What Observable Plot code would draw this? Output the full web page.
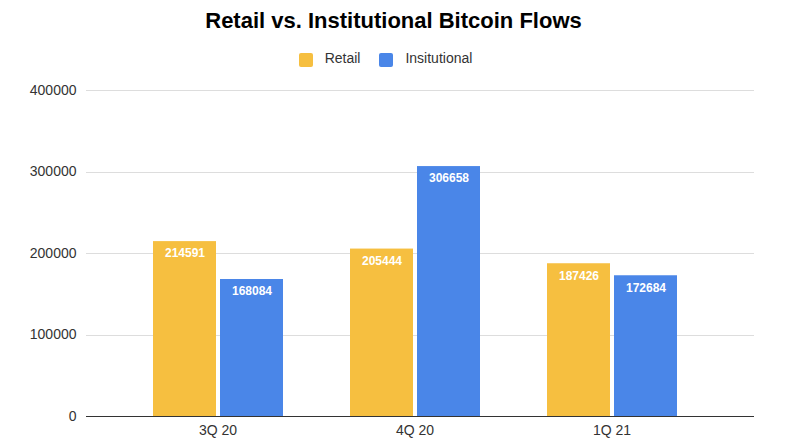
<!DOCTYPE html>
<html><head>
<script src="https://cdn.jsdelivr.net/npm/d3@7"></script>
<script src="https://cdn.jsdelivr.net/npm/@observablehq/plot@0.6"></script>
<style>
body{margin:0;background:#fff;font-family:"Liberation Sans",Arial,sans-serif;}
#title{height:42px;line-height:42px;text-align:center;font-weight:bold;font-size:22px;color:#000;}
#legend{height:33px;display:flex;justify-content:center;align-items:center;gap:19px;font-size:14px;color:#333;margin-left:-16px}
.sw{display:inline-block;width:14px;height:14px;border-radius:2px;margin-right:12px;vertical-align:middle}
</style></head><body>
<div id="title">Retail vs. Institutional Bitcoin Flows</div>
<div id="legend"><span><span class="sw" style="background:#f6bf40"></span>Retail</span><span><span class="sw" style="background:#4a86e8"></span>Insitutional</span></div>
<div id="chart"></div>
<script>
const quarters = ["3Q 20","4Q 20","1Q 21"];
const series = ["Retail","Insitutional"];
const retail = [214591,205444,187426];
const institutional = [168084,306658,172684];
const colors = ["#f6bf40","#4a86e8"];
const yTicks = [0,100000,200000,300000,400000];
const data = quarters.flatMap((q,i)=>[
  {q, s:series[0], v:retail[i]},
  {q, s:series[1], v:institutional[i]}
]);
const chart = Plot.plot({
  width:787, height:371,
  marginLeft:118, marginRight:76, marginTop:15, marginBottom:30,
  style:{fontFamily:"Liberation Sans, Arial, sans-serif", fontSize:"14px", color:"#333"},
  fx:{domain:quarters, padding:0, label:null, tickSize:0},
  y:{domain:[0,400000], ticks:yTicks, label:null, tickSize:0, tickPadding:43, grid:false, tickFormat:d=>String(d)},
  x:{domain:series, paddingInner:0.06, paddingOuter:0.5, axis:null},
  color:{domain:series, range:colors},
  marks:[
    Plot.ruleY(yTicks.filter(d=>d>0),{stroke:"#ddd", insetLeft:-33, insetRight:-44, shapeRendering:"crispEdges"}),
    Plot.barY(data,{fx:"q", x:"s", y:"v", fill:"s"}),
    Plot.text(data,{fx:"q", x:"s", y:"v", text:d=>String(d.v), fill:"white", fontSize:12, fontWeight:"bold", dy:12}),
    Plot.ruleY([0],{stroke:"#333", insetLeft:-33, insetRight:-44, shapeRendering:"crispEdges"})
  ]
});
document.getElementById("chart").appendChild(chart);
</script>
</body></html>
